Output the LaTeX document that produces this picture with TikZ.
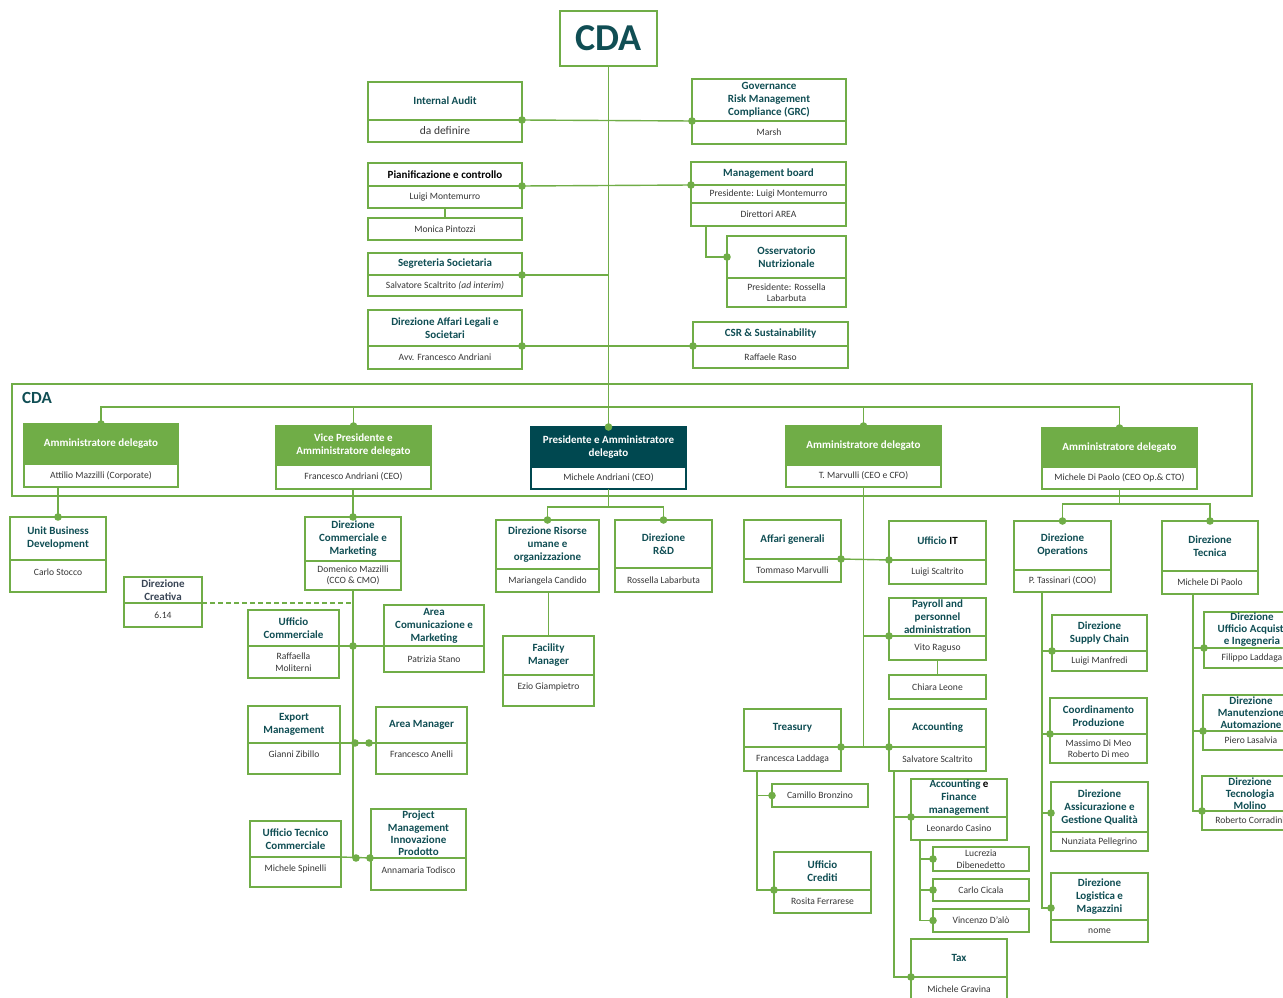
\documentclass[tikz,border=0pt]{standalone}
\usepackage{fontspec}
\setmainfont{Carlito}
\usetikzlibrary{calc,positioning}

\definecolor{grn}{RGB}{112,173,71}
\definecolor{orgteal}{RGB}{16,78,84}
\definecolor{darkbox}{RGB}{0,72,80}
\definecolor{subtxt}{RGB}{55,55,55}
\definecolor{slate}{RGB}{58,70,86}

\tikzset{
  link/.style={draw=grn, line width=1.4pt},
  ttl/.style={draw=grn, line width=1.4pt, fill=white, inner xsep=1pt, inner ysep=0pt, outer sep=0pt,
    align=center, text=orgteal, font=\bfseries\fontsize{11}{13}\selectfont},
  sub/.style={draw=grn, line width=1.4pt, fill=white, inner xsep=1pt, inner ysep=0pt, outer sep=0pt,
    align=center, text=subtxt, font=\fontsize{9.6}{11.5}\selectfont},
  adttl/.style={fill=grn, text=white},
}

\newcommand{\orgbox}[9][]{%
  \node[ttl, #1, minimum width=#5pt, minimum height=#6pt, anchor=north west] (#2) at (#3,#4) {#8};
  \node[sub, minimum width=#5pt, minimum height=#7pt, anchor=north] (#2-s) at (#2.south) {#9};
}
\newcommand{\onebox}[6]{%
  \node[sub, minimum width=#4pt, minimum height=#5pt, anchor=north west] (#1) at (#2,#3) {#6};
}
\newcommand{\jdot}[1]{\fill[grn] (#1) circle (3.8pt);}

\begin{document}
\begin{tikzpicture}[x=1pt, y=-1pt]
\useasboundingbox (0,0) rectangle (1283,998);
\clip (0,0) rectangle (1283,998);

\node[draw=grn, line width=1.4pt, outer sep=0pt, minimum width=97pt, minimum height=55pt, text=orgteal,
  font=\bfseries\fontsize{38}{38}\selectfont] (cda) at (608.5,38.5) {CDA};

\orgbox{ia}{368}{82}{154}{38}{22}{Internal Audit}{\fontsize{11.5}{13}\selectfont da definire}
\orgbox{grc}{692}{79}{154}{42}{23}{Governance\\Risk Management\\Compliance (GRC)}{Marsh}
\orgbox[text=black]{pc}{368}{163}{154}{23}{22}{Pianificazione e controllo}{Luigi Montemurro}
\onebox{mp}{368}{218}{154}{22}{Monica Pintozzi}
\orgbox{mb}{691}{162}{155}{23}{18}{Management board}{Presidente: Luigi Montemurro}
\node[sub, minimum width=155pt, minimum height=23pt, anchor=north] (mb-t) at (mb-s.south) {Direttori AREA};
\orgbox{oss}{727}{236}{119}{42}{29}{Osservatorio\\Nutrizionale}{Presidente: Rossella\\Labarbuta}
\orgbox{seg}{368}{253}{154}{22}{21}{Segreteria Societaria}{Salvatore Scaltrito \textit{(ad interim)}}
\orgbox{dal}{368}{310}{154}{36}{23}{Direzione Affari Legali e\\Societari}{Avv. Francesco Andriani}
\orgbox{csr}{693}{322}{155}{24}{22}{CSR \& Sustainability}{Raffaele Raso}

\node[draw=grn, line width=1.2pt, minimum width=1240pt, minimum height=112pt, anchor=north west,
  inner sep=0pt, outer sep=0pt] (band) at (12,384) {};
\node[anchor=north west, inner sep=0pt, text=orgteal, font=\bfseries\fontsize{17}{17}\selectfont] (bandlbl) at (22,392) {CDA};

\orgbox[adttl]{ad1}{24}{424}{154}{40}{23}{Amministratore delegato}{Attilio Mazzilli (Corporate)}
\orgbox[adttl]{ad2}{276}{426}{155}{39}{24}{Vice Presidente e\\Amministratore delegato}{Francesco Andriani (CEO)}
\node[ttl, fill=darkbox, draw=darkbox, text=white, minimum width=155pt, minimum height=40pt, anchor=north west] (pres) at (531,427) {Presidente e Amministratore\\delegato};
\node[sub, draw=darkbox, minimum width=155pt, minimum height=22pt, anchor=north] (pres-s) at (pres.south) {Michele Andriani (CEO)};
\orgbox[adttl]{ad4}{786}{426}{155}{39}{22}{Amministratore delegato}{T. Marvulli (CEO e CFO)}
\orgbox[adttl]{ad5}{1042}{428}{155}{39}{22}{Amministratore delegato}{Michele Di Paolo (CEO Op.\& CTO)}

\orgbox{ubd}{10}{517}{96}{43}{32}{Unit Business\\Development}{Carlo Stocco\\[-3.5pt]}
\orgbox{dcm}{305}{517}{96}{44}{29}{Direzione\\Commerciale e\\Marketing}{Domenico Mazzilli\\(CCO \& CMO)}
\orgbox[text=slate]{dcr}{124}{577}{78}{26}{24}{Direzione\\Creativa}{6.14}
\orgbox{uc}{248}{610}{91}{36}{32}{Ufficio\\Commerciale}{Raffaella\\Moliterni}
\orgbox{acm}{384}{605}{100}{41}{26}{Area\\Comunicazione e\\Marketing}{Patrizia Stano}
\orgbox{em}{248}{706}{92}{37}{31}{Export\\Management}{Gianni Zibillo\\[-3.5pt]}
\orgbox{am}{376}{707}{91}{36}{31}{Area Manager}{Francesco Anelli\\[-3.5pt]}
\orgbox{utc}{250}{821}{91}{36}{30}{Ufficio Tecnico\\Commerciale}{Michele Spinelli\\[-3.5pt]}
\orgbox[font=\bfseries\fontsize{11}{12.3}\selectfont]{pmi}{371}{809}{95}{49}{32}{Project\\Management\\Innovazione\\Prodotto}{Annamaria Todisco\\[-3.5pt]}

\orgbox{hr}{496}{520}{103}{49}{23}{Direzione Risorse\\umane e\\organizzazione}{Mariangela Candido}
\orgbox{rd}{615}{520}{97}{48}{24}{Direzione\\R\&D}{Rossella Labarbuta}
\orgbox{fm}{503}{636}{91}{39}{31}{Facility\\Manager}{Ezio Giampietro\\[-3.5pt]}

\orgbox{ag}{744}{520}{97}{39}{23}{Affari generali}{Tommaso Marvulli}
\orgbox{uit}{889}{521}{97}{39}{24}{Ufficio \textcolor{black}{IT}}{Luigi Scaltrito}
\orgbox{pay}{889}{598}{97}{38}{24}{Payroll and\\personnel\\administration}{Vito Raguso}
\onebox{cl}{889}{675}{97}{24}{Chiara Leone}
\orgbox{tr}{744}{709}{97}{38}{24}{Treasury}{Francesca Laddaga}
\orgbox{acc}{889}{709}{97}{38}{24}{Accounting}{Salvatore Scaltrito}
\onebox{cb}{772}{784}{96}{23}{Camillo Bronzino}
\orgbox{ucr}{774}{852}{97}{38}{23}{Ufficio\\Crediti}{Rosita Ferrarese}
\orgbox{afm}{911}{779}{96}{38}{23}{Accounting \textcolor{black}{e}\\Finance\\management}{Leonardo Casino}
\onebox{lu}{933}{847}{96}{24}{Lucrezia\\Dibenedetto}
\onebox{cc}{933}{879}{96}{22}{Carlo Cicala}
\onebox{vd}{933}{909}{96}{23}{Vincenzo D’alò}
\orgbox{tax}{911}{939}{96}{38}{24}{Tax}{Michele Gravina}

\orgbox{dop}{1014}{521}{97}{49}{22}{Direzione\\Operations}{P. Tassinari (COO)}
\orgbox{dte}{1162}{521}{96}{50}{23}{Direzione\\Tecnica}{Michele Di Paolo}
\orgbox{dsc}{1052}{615}{95}{36}{20}{Direzione\\Supply Chain}{Luigi Manfredi}
\orgbox{cpr}{1050}{698}{97}{36}{29}{Coordinamento\\Produzione}{Massimo Di Meo\\Roberto Di meo}
\orgbox{daq}{1051}{782}{97}{50}{19}{Direzione\\Assicurazione e\\Gestione Qualità}{Nunziata Pellegrino}
\orgbox{dlm}{1051}{873}{97}{47}{22}{Direzione\\Logistica e\\Magazzini}{nome}
\orgbox[font=\bfseries\fontsize{11}{12}\selectfont]{dua}{1204}{612}{96}{36}{20}{Direzione\\Ufficio Acquisti\\e Ingegneria}{Filippo Laddaga}
\orgbox[font=\bfseries\fontsize{11}{12}\selectfont]{dma}{1203}{695}{96}{36}{19}{Direzione\\Manutenzione\\Automazione}{Piero Lasalvia}
\orgbox[font=\bfseries\fontsize{11}{12}\selectfont]{dtm}{1202}{776}{96}{35}{19}{Direzione\\Tecnologia\\Molino}{Roberto Corradini}

\draw[link] (cda.south) -- (pres.north);
\draw[link] (ia.south east) -- (grc.south west);
\draw[link] (pc.south east) -- (mb.south west);
\draw[link] (pc-s.south) -- (mp.north);
\draw[link] (seg.south east) -- (seg.south east -| cda.south);
\draw[link] (dal.south east) -- (csr.south west);
\draw[link] (mb-t.south west) ++(15,0) |- (oss.west);

\coordinate (bus) at (0,407);
\draw[link] (ad1.north) -- (ad1.north |- bus) -- (ad5.north |- bus) -- (ad5.north);
\draw[link] (ad2.north) -- (ad2.north |- bus);
\draw[link] (ad4.north) -- (ad4.north |- bus);

\draw[link] (ubd.north |- ad1-s.south) -- (ubd.north);
\draw[link] (dcm.north |- ad2-s.south) -- (dcm.north);
\draw[link] (dcm-s.south) -- (dcm-s.south |- pmi.south west);
\draw[link, dashed, dash pattern=on 5pt off 3pt] (dcr.south east) -- (dcr.south east -| dcm-s.south);
\draw[link] (uc.south east) -- (acm.south west);
\draw[link] (em.south east) -- (am.south west);
\draw[link] (utc.south east) -- (pmi.south west);

\draw[link] (pres-s.south) -- ++(0,18) coordinate (pj);
\draw[link] (hr.north) |- (pj) -| (rd.north);
\draw[link] (fm.north |- hr-s.south) -- (fm.north);

\draw[link] (ad4-s.south) -- (ad4-s.south |- tr.south east);
\draw[link] (ag.south east) -- (uit.south west);
\draw[link] (pay.south west -| ad4-s.south) -- (pay.south west);
\draw[link] (pay-s.south) -- (cl.north);
\draw[link] (tr.south east) -- (acc.south west);
\draw[link] ($(tr-s.south west)+(13,0)$) coordinate (trsp) |- (ucr.south west);
\draw[link] (trsp |- cb.west) -- (cb.west);
\draw[link] ($(acc-s.south west)+(5,0)$) coordinate (acsp) |- (tax.south west);
\draw[link] (acsp |- afm.south west) -- (afm.south west);
\draw[link] ($(afm-s.south west)+(9,0)$) coordinate (afsp) |- (vd.west);
\draw[link] (afsp |- lu.west) -- (lu.west);
\draw[link] (afsp |- cc.west) -- (cc.west);

\draw[link] (ad5-s.south) -- ++(0,15) coordinate (tj);
\draw[link] (dop.north) |- (tj) -| (dte.north);
\draw[link] ($(dop-s.south west)+(28,0)$) coordinate (opsp) |- ($(dlm.south west)+(0,-12)$);
\draw[link] (opsp |- dsc.south west) -- (dsc.south west);
\draw[link] (opsp |- cpr.south west) -- (cpr.south west);
\draw[link] (opsp |- 0,813) -- (daq.south west |- 0,813);
\draw[link] ($(dte-s.south west)+(31,0)$) coordinate (tesp) |- (dtm.south west);
\draw[link] (tesp |- dua.south west) -- (dua.south west);
\draw[link] (tesp |- dma.south west) -- (dma.south west);

\jdot{ia.south east} \jdot{grc.south west} \jdot{pc.south east} \jdot{mb.south west}
\jdot{seg.south east} \jdot{dal.south east} \jdot{csr.south west} \jdot{oss.west}
\jdot{ad1.north} \jdot{ad2.north} \jdot{pres.north} \jdot{ad4.north} \jdot{ad5.north}
\jdot{ubd.north} \jdot{dcm.north} \jdot{hr.north} \jdot{rd.north} \jdot{dop.north} \jdot{dte.north}
\jdot{dcm-s.south |- acm.south west}
\jdot{$(dcm-s.south |- am.south west)+(2,0)$} \jdot{$(am.south west)+(-7,0)$}
\jdot{$(dcm-s.south |- pmi.south west)+(3,0)$} \jdot{$(pmi.south west)+(-1,0)$}
\jdot{ag.south east} \jdot{uit.south west} \jdot{pay.south west} \jdot{tr.south east} \jdot{acc.south west}
\jdot{cb.west} \jdot{ucr.south west} \jdot{afm.south west} \jdot{tax.south west}
\jdot{lu.west} \jdot{cc.west} \jdot{vd.west}
\jdot{dsc.south west} \jdot{cpr.south west} \jdot{daq.south west |- 0,813} \jdot{$(dlm.south west)+(0,-12)$}
\jdot{dua.south west} \jdot{dma.south west} \jdot{dtm.south west}
\end{tikzpicture}
\end{document}
